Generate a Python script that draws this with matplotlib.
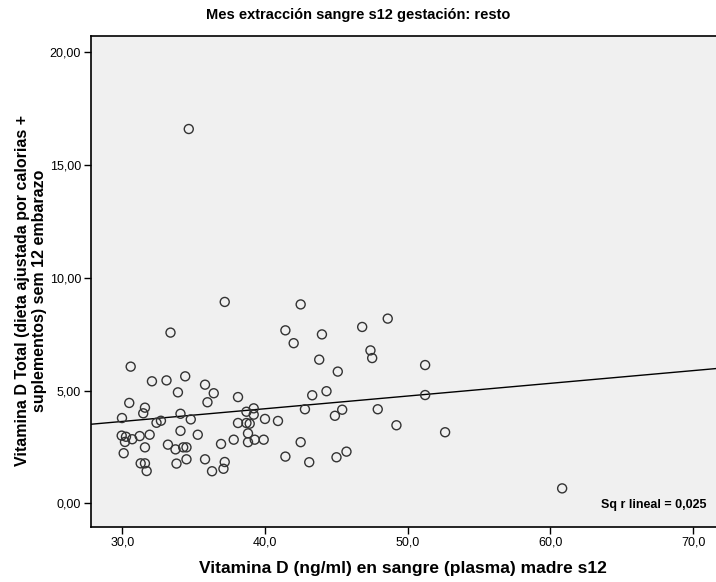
import numpy as np
import matplotlib
matplotlib.use("Agg")
import matplotlib.pyplot as plt
from matplotlib.ticker import FuncFormatter

plt.rcParams['font.family'] = ['Liberation Sans', 'DejaVu Sans']

# Vitamina D en plasma (ng/ml) y vitamina D total (dieta + suplementos)
vit_d_plasma = [
    33.38, 30.59, 32.08, 33.10, 34.41, 35.80, 36.41, 33.90, 35.97, 30.49,
    31.59, 31.47, 29.98, 32.40, 32.71, 34.08, 34.80, 29.96, 30.26, 30.19,
    30.70, 31.22, 31.92, 34.08, 35.29, 30.10, 31.59, 33.20, 33.73, 34.27,
    34.50, 31.29, 31.59, 31.71, 33.80, 34.50, 35.80, 36.29,
    37.18, 42.50, 41.43, 42.01, 43.99, 43.80, 38.11, 43.31, 38.70, 39.21,
    39.21, 38.11, 38.70, 38.93, 40.00, 40.91, 42.80, 38.81, 38.81, 39.28,
    39.91, 37.81, 36.92, 42.50, 41.43, 43.10, 37.18, 37.09,
    46.81, 48.60, 47.39, 47.51, 45.10, 44.31, 45.41, 44.90, 47.90, 49.21,
    45.71, 45.01,
    51.22, 51.22, 52.62,
    34.66, 60.82,
]
vit_d_total = [
    7.57, 6.06, 5.41, 5.45, 5.63, 5.26, 4.88, 4.92, 4.48, 4.45,
    4.24, 3.99, 3.78, 3.57, 3.66, 3.97, 3.72, 3.00, 2.95, 2.72,
    2.84, 2.98, 3.04, 3.21, 3.04, 2.22, 2.48, 2.60, 2.39, 2.48,
    2.48, 1.77, 1.77, 1.43, 1.76, 1.95, 1.95, 1.42,
    8.93, 8.82, 7.67, 7.10, 7.49, 6.37, 4.71, 4.79, 4.06, 4.21,
    3.93, 3.56, 3.56, 3.53, 3.74, 3.65, 4.17, 3.10, 2.71, 2.82,
    2.82, 2.82, 2.63, 2.71, 2.07, 1.82, 1.83, 1.53,
    7.82, 8.19, 6.78, 6.44, 5.84, 4.97, 4.15, 3.88, 4.17, 3.46,
    2.29, 2.04,
    6.13, 4.80, 3.15,
    16.60, 0.66,
]
r2_label = "Sq r lineal = 0,025"

x = np.array(vit_d_plasma)
y = np.array(vit_d_total)

fig = plt.figure(figsize=(7.16, 5.82), dpi=100)
ax = fig.add_axes([0.1267, 0.095, 0.8733, 0.8437])
ax.set_facecolor('#f0f0f0')

xmin, xmax = 27.79, 71.6
ax.set_xlim(xmin, xmax)
ax.set_ylim(-1.04, 20.74)

ax.scatter(x, y, s=42, facecolors='none', edgecolors='#333333', linewidths=1.0, zorder=3)

# recta de ajuste lineal
slope, intercept = np.polyfit(x, y, 1)
xl = np.array([xmin, xmax])
ax.plot(xl, intercept + slope * xl, color='black', lw=1.0, zorder=2)

ax.set_xticks([30, 40, 50, 60, 70])
ax.set_yticks([0, 5, 10, 15, 20])
ax.xaxis.set_major_formatter(FuncFormatter(lambda v, p: f"{v:.1f}".replace('.', ',')))
ax.yaxis.set_major_formatter(FuncFormatter(lambda v, p: f"{v:.2f}".replace('.', ',')))
ax.tick_params(direction='out', length=5, width=1, labelsize=9, colors='black', pad=2)

for s in ['left', 'bottom', 'top']:
    ax.spines[s].set_color('black')
    ax.spines[s].set_linewidth(1.2)
ax.spines['right'].set_visible(False)

ax.set_xlabel('Vitamina D (ng/ml) en sangre (plasma) madre s12', fontsize=12.5,
              fontweight='bold', labelpad=9)
fig.text(0.043, 0.5, 'Vitamina D Total (dieta ajustada por calorias +\nsuplementos) sem 12 embarazo',
         rotation=90, ha='center', va='center', fontsize=11.5, fontweight='bold',
         linespacing=1.15)
fig.text(0.5, 0.975, 'Mes extracción sangre s12 gestación: resto', ha='center', va='center',
         fontsize=10.5, fontweight='bold')
ax.text(0.985, 0.045, r2_label, transform=ax.transAxes, ha='right', va='center',
        fontsize=9, fontweight='bold')

fig.savefig('out.png', dpi=100)
